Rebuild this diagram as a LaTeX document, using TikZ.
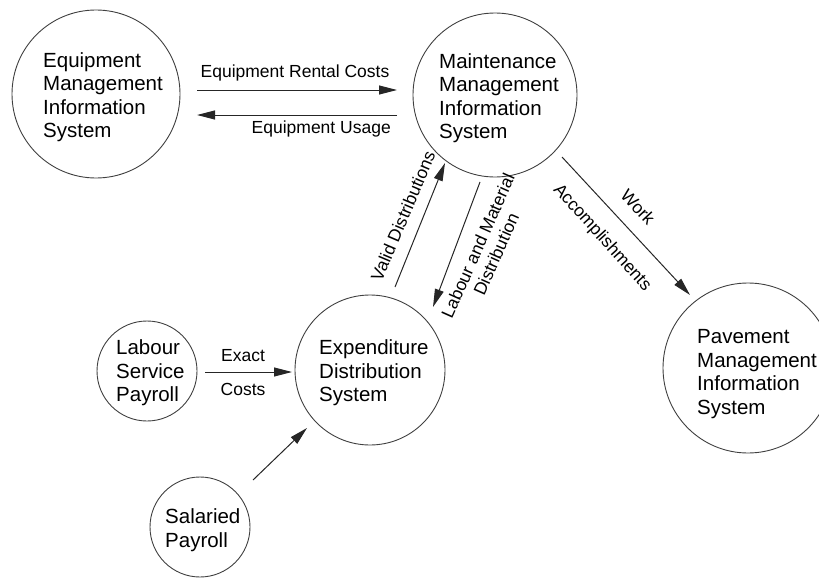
\documentclass[tikz,border=0pt]{standalone}
\usepackage{fontspec}
\setmainfont{Liberation Sans}
\usetikzlibrary{arrows.meta}
\begin{document}
\begin{tikzpicture}[x=1pt,y=-1pt,
  proc/.style={circle, draw=black!75, line width=0.9pt, inner sep=0pt},
  ptext/.style={align=left, anchor=west, font=\fontsize{20.5}{23.5}\selectfont, inner sep=0pt},
  lbl/.style={font=\fontsize{17.5}{20}\selectfont, inner sep=0pt},
  flow/.style={draw=black!85, line width=1pt, -{Triangle[length=18pt,width=9pt]}}]
\useasboundingbox (0,0) rectangle (819,578);
\clip (0,0) rectangle (819,578);
% processes
\node[proc, minimum size=168pt] (eq) at (96,94) {};
\node[proc, minimum size=164pt] (mm) at (495,95) {};
\node[proc, minimum size=150pt] (ex) at (370,370) {};
\node[proc, minimum size=100pt] (ls) at (147,371) {};
\node[proc, minimum size=100pt] (sp) at (200,527) {};
\node[proc, minimum size=170pt] (pm) at (748,368) {};
% process texts
\node[ptext] (eqt) at (43,97) {Equipment\\Management\\Information\\System};
\node[ptext] (mmt) at (439,98) {Maintenance\\Management\\Information\\System};
\node[ptext] (ext) at (319,373) {Expenditure\\Distribution\\System};
\node[ptext] (lst) at (116,373) {Labour\\Service\\Payroll};
\node[ptext] (spt) at (165,530) {Salaried\\Payroll};
\node[ptext] (pmt) at (697,374) {Pavement\\Management\\Information\\System};
% connector end points
\coordinate (rc1) at (197,90);  \coordinate (rc2) at (397,90);
\coordinate (eu1) at (397,115); \coordinate (eu2) at (197,115);
\coordinate (vd1) at (395,287); \coordinate (vd2) at (445,163);
\coordinate (lm1) at (480,182); \coordinate (lm2) at (433,307);
\coordinate (wa1) at (562,157); \coordinate (wa2) at (690,295);
\coordinate (ec1) at (205,372); \coordinate (ec2) at (292,372);
\coordinate (sp1) at (253,480); \coordinate (sp2) at (307,428);
% connectors
\draw[flow] (rc1) -- (rc2);
\draw[flow] (eu1) -- (eu2);
\draw[flow] (vd1) -- (vd2);
\draw[flow] (lm1) -- (lm2);
\draw[flow] (wa1) -- (wa2);
\draw[flow] (ec1) -- (ec2);
\draw[flow] (sp1) -- (sp2);
% labels
\node[lbl] (lrc) at (295,73) {Equipment Rental Costs};
\node[lbl, anchor=east] (leu) at (391,129) {Equipment Usage};
\node[lbl, rotate=67] (lvd) at (403,216) {Valid Distributions};
\node[lbl, rotate=66, align=center] (llm) at (487,250) {Labour and Material\\Distribution};
\node[lbl, rotate=-47] (lw) at (638,207) {Work};
\node[lbl, rotate=-48] (lac) at (602,238) {Accomplishments};
\node[lbl] (lex) at (243,356) {Exact};
\node[lbl] (lco) at (243,389) {Costs};
\end{tikzpicture}
\end{document}
